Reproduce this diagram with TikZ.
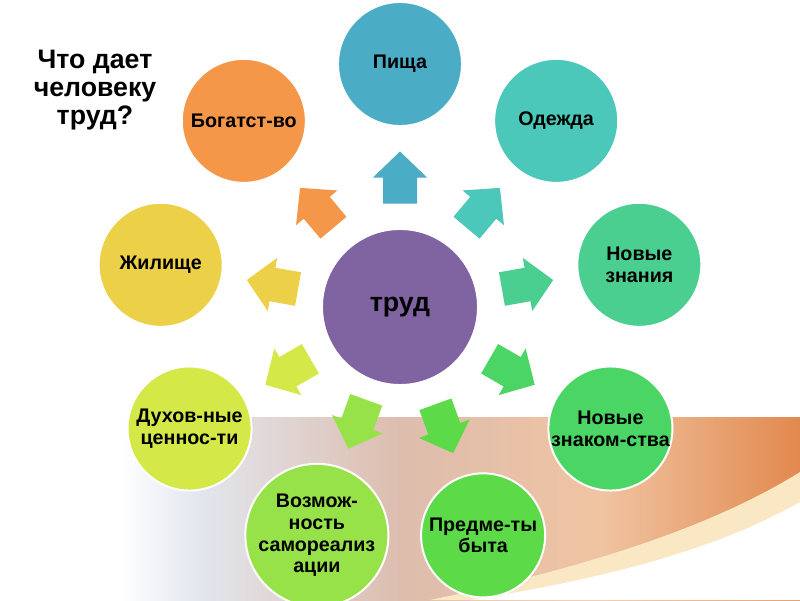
\documentclass[tikz,border=0pt]{standalone}
\usepackage{fontspec}
\setmainfont{Liberation Sans}
\usetikzlibrary{positioning}
\definecolor{TrudPurple}{HTML}{8064A2}
\definecolor{PishaBlue}{HTML}{4BACC6}
\definecolor{OdezhdaTeal}{HTML}{4BC8B9}
\definecolor{ZnaniyaGreen}{HTML}{4ACF91}
\definecolor{ZnakomGreen}{HTML}{4BD564}
\definecolor{BytGreen}{HTML}{5CDA48}
\definecolor{RealizGreen}{HTML}{96E248}
\definecolor{DukhYellow}{HTML}{D4E848}
\definecolor{ZhilYellow}{HTML}{ECD048}
\definecolor{BogatOrange}{HTML}{F59748}
\definecolor{BandBlue}{HTML}{E2E6EE}
\definecolor{BandTan}{HTML}{DDBDAE}
\definecolor{BandPeach}{HTML}{F0C4A2}
\definecolor{BandOrange}{HTML}{E2894E}
\definecolor{BandGlow}{HTML}{FAE7C4}

\begin{document}
\begin{tikzpicture}[x=0.025cm,y=0.025cm]
  \tikzstyle{item}=[circle,draw=white,line width=1.4pt,minimum size=3.1cm,
    inner sep=0pt,align=center,
    font=\bfseries\fontsize{14}{15.5}\selectfont]
  \tikzset{pointer/.pic={\fill (-26,-17) -- (0,-17) -- (0,-27) -- (26,0)
    -- (0,27) -- (0,17) -- (-26,17) -- cycle;}}
  \useasboundingbox (-400,-293) rectangle (400,307);
  % background band
  \fill[white] (-400,-293) rectangle (400,307);
  \shade[left color=white,right color=BandBlue] (-280,-293) rectangle (-200,-110);
  \shade[left color=BandBlue,right color=BandTan] (-200,-293) rectangle (0,-110);
  \shade[left color=BandTan,right color=BandPeach] (0,-293) rectangle (200,-110);
  \shade[left color=BandPeach,right color=BandOrange] (200,-293) rectangle (400,-110);
  \fill[BandGlow] (30,-293) .. controls (200,-258) and (320,-215) .. (400,-165)
    -- (400,-293) -- cycle;
  \fill[white] (70,-293) .. controls (230,-268) and (330,-235) .. (400,-195)
    -- (400,-293) -- cycle;
  % title
  \node[font=\bfseries\fontsize{19}{20}\selectfont,align=center] (title)
    at (-305,217) {Что дает\\человеку\\труд?};
  % circles
  \node[item,fill=TrudPurple,minimum size=3.9cm,
    font=\bfseries\fontsize{19}{20}\selectfont] (trud) at (0,0) {труд};
  \node[item,fill=PishaBlue] (pisha) at (90:243) {Пища};
  \node[item,fill=OdezhdaTeal] (odezhda) at (50:243) {Одежда};
  \node[item,fill=ZnaniyaGreen] (znaniya) at (10:243) {Новые\\знания};
  \node[item,fill=ZnakomGreen] (znakom) at (-30:243) {Новые\\знаком-ства};
  \node[item,fill=BytGreen] (byt) at (-70:243) {Предме-ты\\быта};
  \node[item,fill=RealizGreen] (realiz) at (-110:243)
    {Возмож-\\ность\\самореализ\\ации};
  \node[item,fill=DukhYellow] (dukh) at (-150:243) {Духов-ные\\ценнос-ти};
  \node[item,fill=ZhilYellow] (zhil) at (170:243) {Жилище};
  \node[item,fill=BogatOrange] (bogat) at (130:243) {Богатст-во};
  % block arrows
  \path (trud) -- (pisha) pic[pos=0.5,sloped,allow upside down,color=PishaBlue] {pointer};
  \path (trud) -- (odezhda) pic[pos=0.5,sloped,allow upside down,color=OdezhdaTeal] {pointer};
  \path (trud) -- (znaniya) pic[pos=0.5,sloped,allow upside down,color=ZnaniyaGreen] {pointer};
  \path (trud) -- (znakom) pic[pos=0.5,sloped,allow upside down,color=ZnakomGreen] {pointer};
  \path (trud) -- (byt) pic[pos=0.5,sloped,allow upside down,color=BytGreen] {pointer};
  \path (trud) -- (realiz) pic[pos=0.5,sloped,allow upside down,color=RealizGreen] {pointer};
  \path (trud) -- (dukh) pic[pos=0.5,sloped,allow upside down,color=DukhYellow] {pointer};
  \path (trud) -- (zhil) pic[pos=0.5,sloped,allow upside down,color=ZhilYellow] {pointer};
  \path (trud) -- (bogat) pic[pos=0.5,sloped,allow upside down,color=BogatOrange] {pointer};
\end{tikzpicture}
\end{document}
